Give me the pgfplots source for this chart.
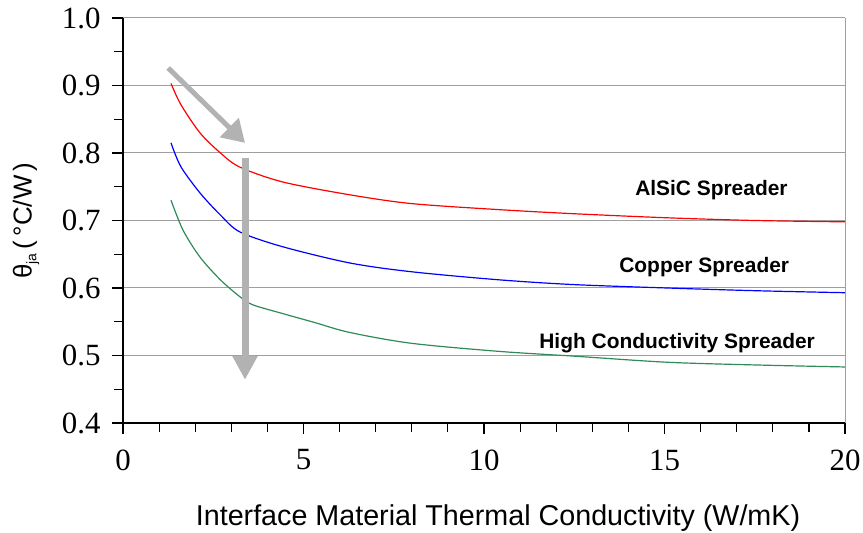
\documentclass[border=0pt]{standalone}
\usepackage{pgfplots}
\pgfplotsset{compat=1.18}
\usepackage{fontspec}
\setmainfont{Liberation Sans}
\newfontfamily\tickfont{Liberation Serif}
\usetikzlibrary{arrows.meta}
\definecolor{hcgreen}{RGB}{46,139,87}

\begin{document}
\begin{tikzpicture}[x=1bp,y=1bp]
\begin{axis}[
  scale only axis,
  width=722bp, height=405bp,
  xmin=0, xmax=20, ymin=0.4, ymax=1.0,
  xtick={0,5,10,15,20}, minor x tick num=4,
  ytick={0.4,0.5,0.6,0.7,0.8,0.9,1.0}, minor y tick num=1,
  axis x line*=bottom, axis y line*=left,
  tick align=outside,
  major tick length=11bp, minor tick length=9bp,
  every tick/.style={black, line width=1.2pt},
  axis line style={black, line width=1.2pt},
  ymajorgrids, major grid style={gray!75, line width=1pt},
  tick label style={font=\tickfont\fontsize{31}{33}\selectfont},
  /pgf/number format/assume math mode=true,
  yticklabel style={anchor=east, xshift=-8bp,
    /pgf/number format/.cd, fixed, fixed zerofill, precision=1},
  xticklabel style={anchor=center, yshift=-26bp},
  xlabel={Interface Material Thermal Conductivity (W/mK)},
  ylabel={θ\raisebox{-0.35ex}{\fontsize{14}{16}\selectfont ja}\,(\,°C/W\,)},
  xlabel style={font=\fontsize{28.8}{30}\selectfont, at={(axis description cs:0.5,0)}, anchor=center, yshift=-95bp, xshift=14bp},
  ylabel style={font=\fontsize{26}{30}\selectfont, at={(axis description cs:0,0.5)}, anchor=center, yshift=97bp},
  clip=false,
]
% AlSiC spreader
\addplot[red, line width=1.2pt, smooth] coordinates {
  (1.33,0.903) (1.6,0.872) (2.13,0.830) (2.7,0.800) (3.24,0.779)
  (4.43,0.757) (6.29,0.738) (8,0.725) (10.44,0.716) (12.5,0.710)
  (15.07,0.704) (17.5,0.700) (20,0.698)};
% Copper spreader
\addplot[blue, line width=1.2pt, smooth] coordinates {
  (1.33,0.815) (1.6,0.780) (2.13,0.741) (2.7,0.708) (3.24,0.683)
  (4.43,0.661) (6.29,0.637) (8,0.624) (10.44,0.612) (12.5,0.605)
  (15.07,0.600) (17.5,0.596) (20,0.593)};
% High conductivity spreader
\addplot[hcgreen, line width=1.2pt, smooth] coordinates {
  (1.33,0.730) (1.66,0.686) (2.13,0.646) (2.7,0.612) (3.24,0.587)
  (3.6,0.575) (4.43,0.562) (5.3,0.549) (6.29,0.534) (8,0.518) (10.44,0.506)
  (12.5,0.499) (15.07,0.490) (17.5,0.486) (20,0.483)};

\draw[gray!75, line width=1pt] (rel axis cs:1,0) -- (rel axis cs:1,1);

\node[font=\bfseries\fontsize{21}{24}\selectfont] at (axis cs:16.3,0.745) {AlSiC Spreader};
\node[font=\bfseries\fontsize{21}{24}\selectfont] at (axis cs:16.1,0.631) {Copper Spreader};
\node[font=\bfseries\fontsize{21}{24}\selectfont] at (axis cs:15.35,0.519) {High Conductivity Spreader};

\draw[gray!60, line width=5bp, -{Triangle[length=22bp,width=26bp]}]
  (axis cs:1.25,0.926) -- (axis cs:3.38,0.815);
\draw[gray!60, line width=7bp, -{Triangle[length=24bp,width=24bp]}]
  (axis cs:3.38,0.793) -- (axis cs:3.38,0.464);

\coordinate (ll) at (rel axis cs:0,0);
\coordinate (ur) at (rel axis cs:1,1);
\end{axis}
\pgfresetboundingbox
\path ([shift={(-123bp,-110bp)}]ll) rectangle ([shift={(18bp,18bp)}]ur);
\end{tikzpicture}
\end{document}
